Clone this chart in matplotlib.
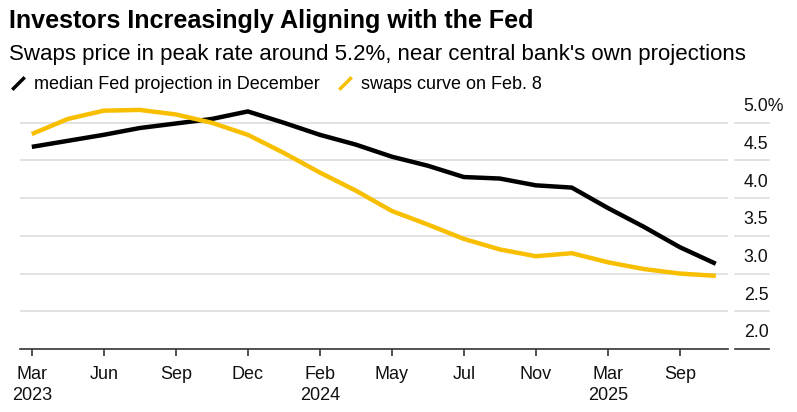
import matplotlib

matplotlib.use("Agg")
import matplotlib.pyplot as plt
import matplotlib.transforms as mtransforms
from matplotlib.lines import Line2D

plt.rcParams["font.family"] = ["Liberation Sans", "DejaVu Sans"]

# one point per meeting, evenly spaced
fed_projection = [4.68, 4.76, 4.84, 4.93, 4.99, 5.05, 5.15, 5.00, 4.84, 4.71,
                  4.55, 4.43, 4.28, 4.26, 4.17, 4.14, 3.87, 3.62, 3.35, 3.13]
swaps_curve = [4.85, 5.05, 5.16, 5.17, 5.11, 5.00, 4.84, 4.60, 4.34, 4.10,
               3.83, 3.65, 3.46, 3.32, 3.23, 3.27, 3.15, 3.06, 3.00, 2.97]
tick_positions = [0, 2, 4, 6, 8, 10, 12, 14, 16, 18]
tick_labels = ["Mar\n2023", "Jun", "Sep", "Dec", "Feb\n2024", "May", "Jul",
               "Nov", "Mar\n2025", "Sep"]
y_ticks = [2.0, 2.5, 3.0, 3.5, 4.0, 4.5, 5.0]
y_labels = ["2.0", "2.5", "3.0", "3.5", "4.0", "4.5", "5.0%"]

BLACK = "#000000"
YELLOW = "#F8BE00"
GRID = "#DDDDDD"
AXIS = "#333333"

fig = plt.figure(figsize=(7.97, 4.12), dpi=100)
ax = fig.add_axes([0.025, 0.153, 0.888, 0.604])

x = range(len(fed_projection))
ax.plot(x, fed_projection, color=BLACK, lw=3.2, solid_capstyle="butt", zorder=3)
ax.plot(x, swaps_curve, color=YELLOW, lw=3.2, solid_capstyle="butt", zorder=3)

ax.set_xlim(-0.33, 19.33)
ax.set_ylim(2.0, 5.3)

for v in y_ticks[1:]:
    ax.axhline(v, color=GRID, lw=1.2, zorder=1)
    ax.axhline(v, xmin=1.011, xmax=1.058, color=GRID, lw=1.2, clip_on=False)
ax.axhline(2.0, xmin=1.011, xmax=1.058, color=AXIS, lw=1.2, clip_on=False)

for side in ["top", "right", "left"]:
    ax.spines[side].set_visible(False)
ax.spines["bottom"].set_color(AXIS)
ax.spines["bottom"].set_linewidth(1.2)

ax.set_xticks(tick_positions)
ax.set_xticklabels(tick_labels, fontsize=13, color="#111111", linespacing=1.3)
ax.tick_params(axis="x", direction="out", length=5, width=1.2, color=AXIS, pad=7)

ax.yaxis.tick_right()
ax.set_yticks(y_ticks)
ax.set_yticklabels(y_labels, fontsize=12.8, color="#111111")
ax.tick_params(axis="y", length=0, pad=11.5)
offset = mtransforms.ScaledTranslation(0, 13 / 72, fig.dpi_scale_trans)
for lab in ax.get_yticklabels():
    lab.set_transform(lab.get_transform() + offset)

fig.text(0.011, 0.950, "Investors Increasingly Aligning with the Fed",
         fontsize=18.1, fontweight="bold", va="center", color="#000000")
fig.text(0.011, 0.868, "Swaps price in peak rate around 5.2%, near central bank's own projections",
         fontsize=16, va="center", color="#000000")

handles = [
    Line2D([], [], color=BLACK, marker=[(-1, -1), (1, 1)], markersize=9,
           markeredgewidth=2.5, linestyle="none"),
    Line2D([], [], color=YELLOW, marker=[(-1, -1), (1, 1)], markersize=9,
           markeredgewidth=2.5, linestyle="none"),
]
fig.legend(handles, ["median Fed projection in December", "swaps curve on Feb. 8"],
           loc="center left", bbox_to_anchor=(0.002, 0.795), ncol=2, frameon=False,
           fontsize=13, handlelength=1.0, handletextpad=0.4, columnspacing=0.9,
           borderaxespad=0)

fig.savefig("out.png", dpi=100)
